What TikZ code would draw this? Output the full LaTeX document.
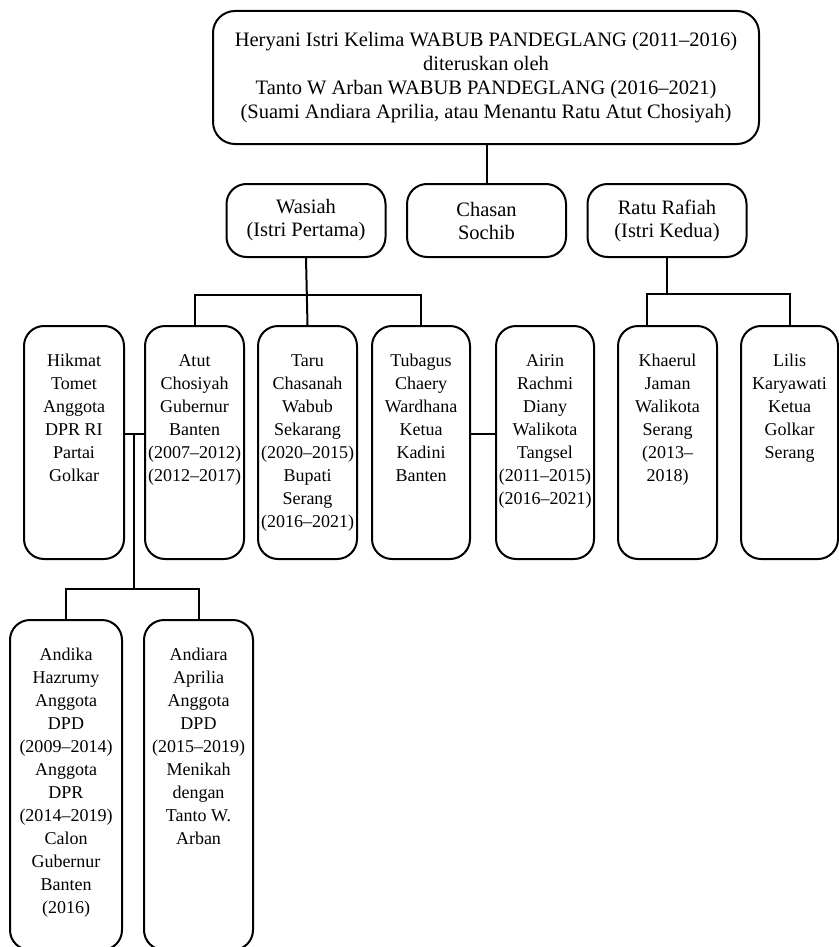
\documentclass[tikz,border=0pt]{standalone}
\usepackage{fontspec}
\setmainfont{Liberation Serif}
\newcommand\isiKotak[3]{\parbox[t][#2pt][t]{#1pt}{\centering\rule{0pt}{40pt}#3}}

\begin{document}
\begin{tikzpicture}[x=1pt,y=-1pt]
    \tikzset{garis/.style={line width=2pt}}
    \tikzset{kotak/.style={draw, garis, rounded corners=20pt, inner sep=0pt, anchor=north west,
        font=\fontsize{18}{23}\selectfont}}
    \tikzset{istri/.style={draw, garis, rounded corners=20pt, anchor=north, align=center,
        minimum width=159pt, minimum height=73pt, font=\fontsize{20.5}{23}\selectfont}}
    \useasboundingbox (0,0) rectangle (838,947);

    \node[draw, garis, rounded corners=22pt, anchor=north, align=center,
        minimum width=546pt, minimum height=133pt, font=\fontsize{20.5}{24}\selectfont]
        (heryani) at (486,10)
        {Heryani Istri Kelima WABUB PANDEGLANG (2011--2016)\\
         diteruskan oleh\\
         Tanto W Arban WABUB PANDEGLANG (2016--2021)\\
         (Suami Andiara Aprilia, atau Menantu Ratu Atut Chosiyah)};

    \node[istri] (wasiah) at (306,183) {Wasiah\\(Istri Pertama)};
    \node[istri] (chasan) at (486.5,183) {Chasan\\Sochib};
    \node[istri] (ratu)   at (667,183) {Ratu Rafiah\\(Istri Kedua)};

    \node[kotak] (hikmat)  at (23,325)  {\isiKotak{100}{233}{Hikmat\\Tomet\\Anggota\\DPR RI\\Partai\\Golkar}};
    \node[kotak] (atut)    at (144,325) {\isiKotak{99}{233}{Atut\\Chosiyah\\Gubernur\\Banten\\(2007--2012)\\(2012--2017)}};
    \node[kotak] (taru)    at (257,325) {\isiKotak{99}{233}{Taru\\Chasanah\\Wabub\\Sekarang\\(2020--2015)\\Bupati\\Serang\\(2016--2021)}};
    \node[kotak] (tubagus) at (371,325) {\isiKotak{98}{233}{Tubagus\\Chaery\\Wardhana\\Ketua\\Kadini\\Banten}};
    \node[kotak] (airin)   at (495,325) {\isiKotak{98}{233}{Airin\\Rachmi\\Diany\\Walikota\\Tangsel\\(2011--2015)\\(2016--2021)}};
    \node[kotak] (khaerul) at (617,325) {\isiKotak{99}{233}{Khaerul\\Jaman\\Walikota\\Serang\\(2013--\\2018)}};
    \node[kotak] (lilis)   at (740,325) {\isiKotak{97}{233}{Lilis\\Karyawati\\Ketua\\Golkar\\Serang}};

    \node[kotak] (andika)  at (9,619)   {\isiKotak{112}{330}{Andika\\Hazrumy\\Anggota\\DPD\\(2009--2014)\\Anggota\\DPR\\(2014--2019)\\Calon\\Gubernur\\Banten\\(2016)}};
    \node[kotak] (andiara) at (143,619) {\isiKotak{109}{330}{Andiara\\Aprilia\\Anggota\\DPD\\(2015--2019)\\Menikah\\dengan\\Tanto W.\\Arban}};

    \coordinate (busW) at (306,295);
    \coordinate (busR) at (667,294);
    \coordinate (nikahA) at (133.5,434);
    \coordinate (nikahB) at (482,434);
    \coordinate (busA) at (133.5,589);

    \draw[garis] (heryani.south -| chasan.north) -- (chasan.north);
    \draw[garis] (wasiah.south) -- (taru.north);
    \draw[garis] (atut.north) |- (busW) -| (tubagus.north);
    \draw[garis] (ratu.south) -- (busR);
    \draw[garis] ([xshift=-20.5pt]khaerul.north) |- (busR) -| (lilis.north);

    \draw[garis] (hikmat.east |- nikahA) -- (atut.west |- nikahA);
    \draw[garis] (nikahA) -- (busA);
    \draw[garis] (andika.north) |- (busA) -| (andiara.north);
    \draw[garis] (tubagus.east |- nikahB) -- (airin.west |- nikahB);
\end{tikzpicture}
\end{document}
